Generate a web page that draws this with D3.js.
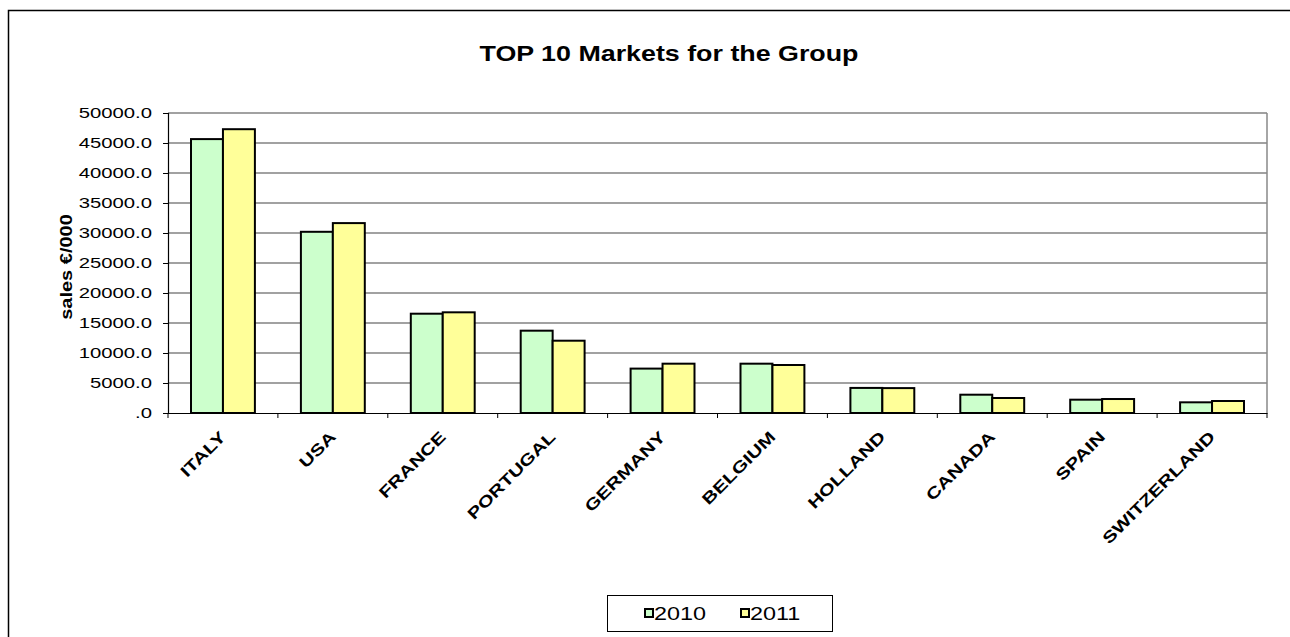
<!DOCTYPE html>
<html>
<head>
  <meta charset='utf-8'>
  <title>TOP 10 Markets for the Group</title>
  <style>
    body { margin: 0; background: #fff; }
    text { font-family: Arial, 'Liberation Sans', sans-serif; }
  </style>
</head>
<body>
<div id="chart"></div>
<script src="https://cdnjs.cloudflare.com/ajax/libs/d3/7.8.5/d3.min.js"></script>
<script>

// chart data
var markets = ['ITALY', 'USA', 'FRANCE', 'PORTUGAL', 'GERMANY', 'BELGIUM', 'HOLLAND', 'CANADA', 'SPAIN', 'SWITZERLAND'];
var years = ['2010', '2011'];
var sales2010 = [45650, 30200, 16550, 13720, 7400, 8220, 4180, 3050, 2220, 1780];
var sales2011 = [47300, 31650, 16780, 12050, 8220, 8000, 4150, 2500, 2330, 2000];
var yTicks = [0, 5000, 10000, 15000, 20000, 25000, 30000, 35000, 40000, 45000, 50000];
var colors = ['#CCFFCC', '#FFFF99'];

var width = 1290, height = 637;
var m = {left: 168, top: 113, right: 1267, bottom: 413};

var svg = d3.select('#chart').append('svg')
  .attr('width', width)
  .attr('height', height);

// outer chart frame
svg.append('rect')
  .attr('x', 8.5).attr('y', 10.5)
  .attr('width', 1300).attr('height', 700)
  .attr('fill', 'none')
  .attr('stroke', '#000')
  .attr('stroke-width', 1.5);

svg.append('text')
  .attr('transform', 'translate(669,61) scale(1.22,1)')
  .attr('text-anchor', 'middle')
  .attr('font-size', '22px')
  .attr('font-weight', 'bold')
  .text('TOP 10 Markets for the Group');

var x = d3.scaleBand()
  .domain(markets)
  .range([m.left, m.right]);

var x1 = d3.scaleBand()
  .domain(years)
  .range([0, x.bandwidth()])
  .paddingOuter(0.72)
  .paddingInner(0);

var y = d3.scaleLinear()
  .domain([0, 50000])
  .range([m.bottom, m.top]);

// gridlines
svg.append('g')
  .selectAll('line')
  .data(yTicks.slice(1))
  .enter()
    .append('line')
    .attr('x1', m.left).attr('x2', m.right)
    .attr('y1', function(d) { return y(d); })
    .attr('y2', function(d) { return y(d); })
    .attr('stroke', '#444')
    .attr('stroke-width', 1.2);

// plot area right border
svg.append('line')
  .attr('x1', m.right).attr('x2', m.right)
  .attr('y1', m.top).attr('y2', m.bottom)
  .attr('stroke', '#888')
  .attr('stroke-width', 1.5);

// bars
var series = [sales2010, sales2011];
var groups = svg.append('g')
  .selectAll('g')
  .data(markets)
  .enter()
    .append('g')
    .attr('transform', function(d) { return 'translate(' + x(d) + ',0)'; });

groups.selectAll('rect')
  .data(function(d, i) { return years.map(function(yr, j) { return {year: yr, value: series[j][i], j: j}; }); })
  .enter()
    .append('rect')
    .attr('x', function(d) { return x1(d.year); })
    .attr('width', x1.bandwidth())
    .attr('y', function(d) { return y(d.value); })
    .attr('height', function(d) { return y(0) - y(d.value); })
    .attr('fill', function(d) { return colors[d.j]; })
    .attr('stroke', '#000')
    .attr('stroke-width', 2);

// y axis
var yAxis = svg.append('g')
  .attr('transform', 'translate(' + m.left + ',0)')
  .call(d3.axisLeft(y)
    .tickValues(yTicks)
    .tickSize(5)
    .tickFormat(function(d) { return d === 0 ? '.0' : d3.format('.1f')(d); }));
yAxis.select('.domain').attr('stroke', '#000').attr('stroke-width', 1.2);
yAxis.selectAll('.tick line').attr('stroke', '#000');
yAxis.selectAll('text')
  .attr('x', 0)
  .attr('transform', 'translate(-16,0) scale(1.45,1)')
  .attr('font-size', '14px')
  .attr('fill', '#000')
  .attr('font-family', 'Arial, Liberation Sans, sans-serif');

// x axis
var xAxis = svg.append('g')
  .attr('transform', 'translate(0,' + m.bottom + ')')
  .call(d3.axisBottom(x).tickSize(0).tickSizeOuter(0));
xAxis.select('.domain').attr('stroke', '#000').attr('stroke-width', 1.2);
xAxis.selectAll('text')
  .attr('y', 0)
  .attr('font-size', '16px')
  .attr('font-weight', 'bold')
  .attr('fill', '#000')
  .attr('font-family', 'Arial, Liberation Sans, sans-serif')
  .attr('text-anchor', 'end')
  .attr('dy', '0.35em')
  .attr('transform', 'translate(0,21) rotate(-45) scale(1.3,1)');

// category separator ticks
svg.append('g')
  .selectAll('line')
  .data(markets)
  .enter()
    .append('line')
    .attr('x1', function(d) { return x(d); })
    .attr('x2', function(d) { return x(d); })
    .attr('y1', m.bottom).attr('y2', m.bottom + 5)
    .attr('stroke', '#000');
svg.append('line')
  .attr('x1', m.right).attr('x2', m.right)
  .attr('y1', m.bottom).attr('y2', m.bottom + 5)
  .attr('stroke', '#000');

// y axis title
svg.append('text')
  .attr('transform', 'translate(72,' + ((m.top + m.bottom) / 2 + 4) + ') rotate(-90) scale(1.25,1)')
  .attr('text-anchor', 'middle')
  .attr('font-size', '16px')
  .attr('font-weight', 'bold')
  .text('sales  \u20ac/000');

// legend
var legend = svg.append('g').attr('transform', 'translate(607,595)');
legend.append('rect')
  .attr('x', 0.5).attr('y', 0.5)
  .attr('width', 225).attr('height', 36)
  .attr('fill', '#fff')
  .attr('stroke', '#000');
var items = legend.selectAll('g.item')
  .data(years)
  .enter()
    .append('g')
    .attr('class', 'item')
    .attr('transform', function(d, i) { return 'translate(' + (38 + i * 96) + ',14)'; });
items.append('rect')
  .attr('width', 8).attr('height', 8)
  .attr('fill', function(d, i) { return colors[i]; })
  .attr('stroke', '#000')
  .attr('stroke-width', 2);
items.append('text')
  .attr('transform', 'translate(9,11) scale(1.3,1)')
  .attr('font-size', '18px')
  .text(function(d) { return d; });

</script>
</body>
</html>
